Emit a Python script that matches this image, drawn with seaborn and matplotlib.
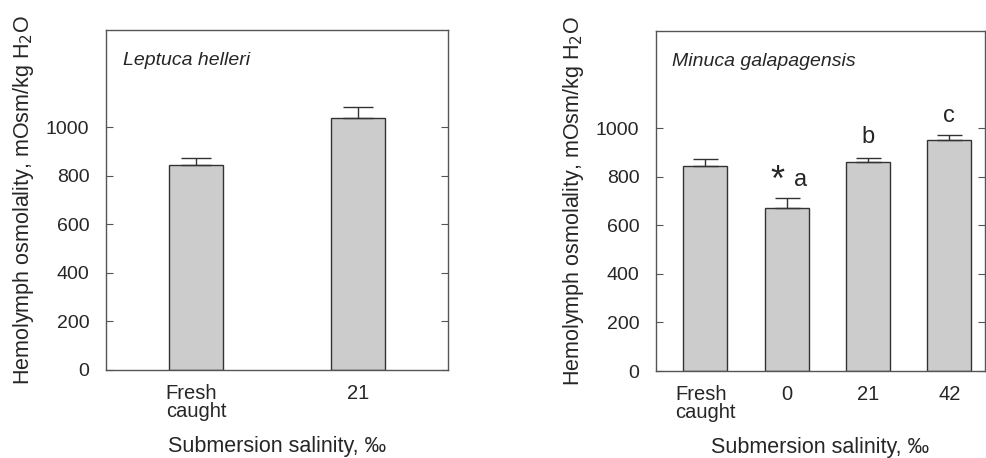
import matplotlib
matplotlib.use("Agg")
import matplotlib.pyplot as plt
import seaborn as sns
import pandas as pd
import numpy as np

sns.set_style("white")
plt.rcParams['font.family'] = ['Liberation Sans', 'DejaVu Sans']

# Data
left_categories = ["Fresh\ncaught", "21"]
left_means = [844, 1036]
left_se = [31, 45]

right_categories = ["Fresh\ncaught", "0", "21", "42"]
right_means = [845, 670, 859, 951]
right_se = [28, 42, 19, 19]
right_letters = ["", "a", "b", "c"]

ylabel = "Hemolymph osmolality, mOsm/kg H$_2$O"
xlabel = "Submersion salinity, \u2030"

W, H = 986, 458
fig = plt.figure(figsize=(W / 100, H / 100), dpi=100)

bar_color = "#cccccc"
edge_color = "#333333"


def panel(rect, cats, means, se, width, xlim, title, capsize, ylab_x):
    ax = fig.add_axes(rect)
    df = pd.DataFrame({"cat": cats, "val": means})
    sns.barplot(data=df, x="cat", y="val", ax=ax, color=bar_color,
                edgecolor=edge_color, linewidth=1.0, width=width,
                errorbar=None, saturation=1)
    x = np.arange(len(cats))
    ax.errorbar(x, means, yerr=[np.zeros(len(se)), se], fmt="none",
                ecolor=edge_color, elinewidth=1.0, capsize=capsize,
                capthick=1.0)
    ax.set_ylim(0, 1400)
    ax.set_xlim(*xlim)
    ax.set_yticks([0, 200, 400, 600, 800, 1000])
    ax.tick_params(axis="y", direction="in", length=5, width=0.8,
                   right=True, left=True, labelsize=14, color="#555555",
                   pad=12)
    ax.tick_params(axis="x", length=0, labelsize=14.5, pad=10)
    for s in ax.spines.values():
        s.set_color("#555555")
        s.set_linewidth(1.0)
        s.set_visible(True)
    ax.set_xlabel(xlabel, fontsize=15.5)
    ax.xaxis.label.set_verticalalignment("center")
    ax.xaxis.set_label_coords(0.5, -0.226)
    ax.set_ylabel(ylabel, fontsize=15.5)
    ax.yaxis.set_label_coords(ylab_x, 0.5)
    for lab in ax.get_xticklabels():
        lab.set_linespacing(0.95)
        lab.set_verticalalignment("top")
        lab.set_multialignment("left")
    ax.text(0.05, 0.91, title, transform=ax.transAxes, fontsize=14,
            style="italic", ha="left", va="center")
    return ax


axL = panel([106 / W, (H - 370) / H, 342 / W, 340 / H], left_categories,
            left_means, left_se, 0.333, (-0.556, 1.556), "Leptuca helleri", 11,
            -0.205)

axR = panel([656 / W, (H - 371) / H, 329 / W, 340 / H], right_categories,
            right_means, right_se, 0.54, (-0.606, 3.44),
            "Minuca galapagensis", 9, -0.213)

letter_x = [0, 1.17, 2, 3]
letter_y = [0, 785, 962, 1052]
for i, letter in enumerate(right_letters):
    if letter:
        axR.text(letter_x[i], letter_y[i], letter, ha="center", va="center",
                 fontsize=17)
axR.text(0.885, 780, "*", ha="center", va="center", fontsize=26)

fig.savefig("out.png", dpi=100)
